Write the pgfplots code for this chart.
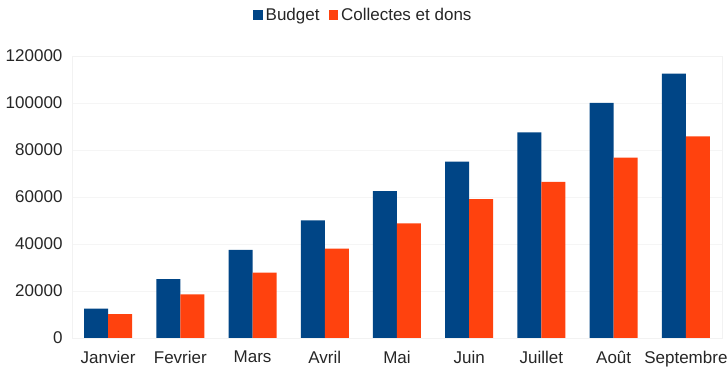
\documentclass[border=0pt]{standalone}
\usepackage{pgfplots}
\pgfplotsset{compat=1.18}
\usepackage{fontspec}
\setmainfont{Liberation Sans}
\definecolor{cBudget}{HTML}{004586}
\definecolor{cDons}{HTML}{FF420E}
\begin{document}
\begin{tikzpicture}
\useasboundingbox (-72pt,-33pt) rectangle (656pt,338pt);
\begin{axis}[
  scale only axis,
  width=650pt, height=282pt,
  at={(0,0)}, anchor=south west,
  ybar=0pt, bar width=24pt,
  xmin=-0.5, xmax=8.5,
  ymin=0, ymax=120000,
  xtick={0,...,8},
  xticklabels={Janvier,Fevrier,Mars,Avril,Mai,Juin,Juillet,Août,Septembre},
  ytick={0,20000,40000,60000,80000,100000,120000},
  yticklabels={0,20000,40000,60000,80000,100000,120000},
  scaled y ticks=false,
  tick style={draw=none},
  axis line style={draw=black!5},
  ymajorgrids, grid style={draw=black!4},
  ticklabel style={font=\fontsize{17}{20}\selectfont, text=black!85},
  xticklabel style={yshift=-5pt},
  yticklabel style={xshift=-6pt},
  legend style={at={(0.449,1.145)}, anchor=center, draw=none, fill=none,
    font=\fontsize{17}{20}\selectfont, text=black!85, legend columns=2,
    /tikz/every even column/.append style={column sep=6pt}},
  legend image code/.code={\fill[#1] (0pt,-4.5pt) rectangle (9.5pt,5pt);},
  legend style={inner xsep=0pt, nodes={inner xsep=3pt}},
]
\addplot[draw=none, fill=cBudget] coordinates {(0,12500) (1,25000) (2,37500) (3,50000) (4,62500) (5,75000) (6,87500) (7,100000) (8,112500)};
\addlegendentry{Budget}
\addplot[draw=none, fill=cDons] coordinates {(0,10200) (1,18600) (2,27800) (3,38000) (4,48800) (5,59100) (6,66400) (7,76700) (8,85800)};
\addlegendentry{Collectes et dons}
\end{axis}
\end{tikzpicture}
\end{document}
